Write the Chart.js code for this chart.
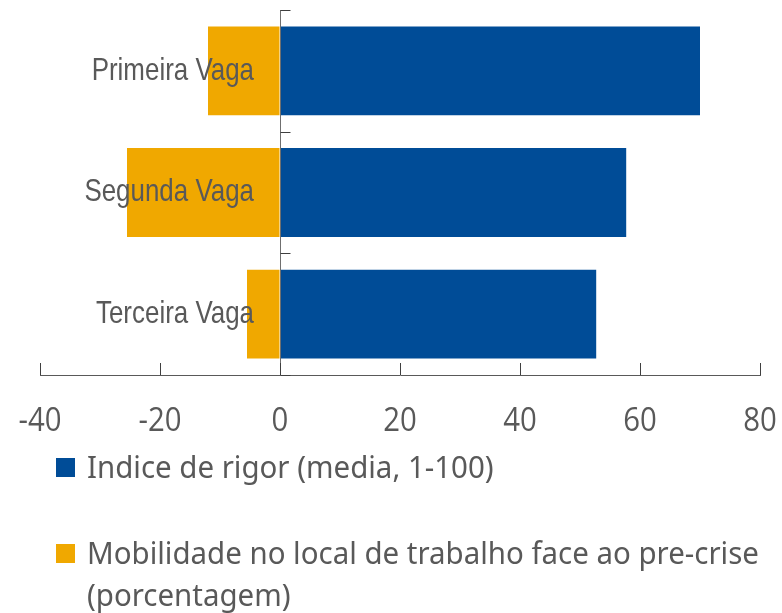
<!DOCTYPE html>
<html>
<head>
<meta charset="utf-8">
<script src="https://cdn.jsdelivr.net/npm/chart.js@4/dist/chart.umd.min.js"></script>
<style>
  html, body { margin: 0; padding: 0; background: #ffffff; }
  #wrap { position: relative; width: 782px; height: 613px; overflow: hidden; }
</style>
</head>
<body>
<div id="wrap"><canvas id="c" width="782" height="613"></canvas></div>
<script>
const categories = ["Primeira Vaga", "Segunda Vaga", "Terceira Vaga"];
const rigorLabel = "Indice de rigor (media, 1-100)";
const rigorValues = [70, 57.7, 52.7];
const mobilityLabel = "Mobilidade no local de trabalho face ao pre-crise (porcentagem)";
const mobilityValues = [-12, -25.5, -5.5];
const xTickMin = -40, xTickMax = 80, xTickStep = 20;

const CAT_FONT = '"Liberation Sans", Arial, sans-serif';
const TICK_FONT = '"Open Sans", "Noto Sans", sans-serif';
const LEGEND_FONT = '"Noto Sans", "Open Sans", sans-serif';
const TEXT = '#595959';
const CAT_LABEL_GAP = 26;

// horizontal compression of text glyphs (the reference uses narrow faces)
const stretchByFamily = [['Liberation Sans', 0.81], ['Open Sans', 0.89]];

const canvas = document.getElementById('c');
const ctx2d = canvas.getContext('2d');
const origFillText = ctx2d.fillText.bind(ctx2d);
ctx2d.fillText = function (text, x, y, maxW) {
  let f = 1;
  for (const [fam, v] of stretchByFamily) { const k = this.font.indexOf(fam); if (k !== -1 && k < 40) { f = v; break; } }
  if (f === 1) return maxW === undefined ? origFillText(text, x, y) : origFillText(text, x, y, maxW);
  this.save();
  this.translate(x, y);
  this.scale(f, 1);
  if (maxW === undefined) origFillText(text, 0, 0); else origFillText(text, 0, 0, maxW / f);
  this.restore();
};

const tickPlugin = {
  id: 'tickMarks',
  afterDraw(chart) {
    const ctx = chart.ctx;
    const x = chart.scales.x, y = chart.scales.y;
    const area = chart.chartArea;
    ctx.save();
    ctx.strokeStyle = '#3f3f3f';
    ctx.lineWidth = 1;
    x.ticks.forEach(t => {
      const px = Math.round(x.getPixelForValue(t.value)) + 0.5;
      ctx.beginPath();
      ctx.moveTo(px, area.bottom);
      ctx.lineTo(px, area.bottom - 12);
      ctx.stroke();
    });
    const x0 = Math.round(x.getPixelForValue(0)) + 0.5;
    for (let i = 0; i <= categories.length; i++) {
      const py = Math.round(y.getPixelForValue(i - 0.5)) + 0.5;
      ctx.beginPath();
      ctx.moveTo(x0, py);
      ctx.lineTo(x0 + 10, py);
      ctx.stroke();
    }
    ctx.restore();
  }
};

const legendPlugin = {
  id: 'wrapLegend',
  afterDraw(chart) {
    const ctx = chart.ctx;
    ctx.save();
    ctx.font = '31px ' + LEGEND_FONT;
    ctx.textBaseline = 'alphabetic';
    ctx.textAlign = 'left';
    const sx = 0.95;
    const boxX = 56, textX = 87, boxSize = 19;
    const firstBaseline = 478, itemGap = 86, lineGap = 42;
    const maxW = (782 - textX) / sx;
    let base = firstBaseline;
    chart.data.datasets.forEach(ds => {
      const words = ds.label.split(' ');
      const lines = [];
      let cur = '';
      words.forEach(w => {
        const test = cur ? cur + ' ' + w : w;
        if (ctx.measureText(test).width > maxW && cur) { lines.push(cur); cur = w; }
        else cur = test;
      });
      if (cur) lines.push(cur);
      ctx.fillStyle = ds.backgroundColor;
      ctx.fillRect(boxX, base - 20, boxSize, boxSize);
      ctx.fillStyle = TEXT;
      lines.forEach((ln, k) => {
        ctx.save();
        ctx.translate(textX, base + k * lineGap);
        ctx.scale(sx, 1);
        origFillText(ln, 0, 0);
        ctx.restore();
      });
      base += itemGap;
    });
    ctx.restore();
  }
};

new Chart(canvas, {
  type: 'bar',
  data: {
    labels: categories,
    datasets: [
      { label: rigorLabel, data: rigorValues, backgroundColor: '#004C97', borderWidth: 0,
        categoryPercentage: 1, barPercentage: 0.73 },
      { label: mobilityLabel, data: mobilityValues, backgroundColor: '#F0A800', borderWidth: 0,
        categoryPercentage: 1, barPercentage: 0.73 }
    ]
  },
  options: {
    indexAxis: 'y',
    responsive: false,
    animation: false,
    layout: { padding: { left: 40, right: 22, top: 10, bottom: 173 } },
    plugins: { legend: { display: false }, tooltip: { enabled: false } },
    scales: {
      x: {
        type: 'linear',
        stacked: true,
        min: xTickMin, max: xTickMax,
        position: 'bottom',
        grid: { display: true, drawOnChartArea: false, drawTicks: false },
        border: { display: true, color: '#595959', width: 1 },
        ticks: { stepSize: xTickStep, padding: 27, color: TEXT, font: { family: TICK_FONT, size: 33 } },
        afterFit(s) { s.paddingLeft = 0; s.paddingRight = 0; s.height = 65; }
      },
      y: {
        type: 'category',
        stacked: true,
        position: { x: 0 },
        offset: true,
        grid: { display: true, drawOnChartArea: false, drawTicks: false },
        border: { display: true, color: '#6f6f6f', width: 1, z: 2 },
        ticks: { z: 1, padding: 26, color: TEXT, font: { family: CAT_FONT, size: 32 } },
        afterFit(s) { s.paddingTop = 0; s.paddingBottom = 0; },
        afterUpdate(s) {
          if (s._gapPatched) return;
          s._gapPatched = true;
          const orig = s._computeLabelItems;
          s._computeLabelItems = function (ca) {
            const items = orig.call(this, ca);
            items.forEach(it => { if (it.options && it.options.translation) it.options.translation[0] -= CAT_LABEL_GAP; });
            return items;
          };
        }
      }
    }
  },
  plugins: [tickPlugin, legendPlugin]
});
</script>
</body>
</html>
